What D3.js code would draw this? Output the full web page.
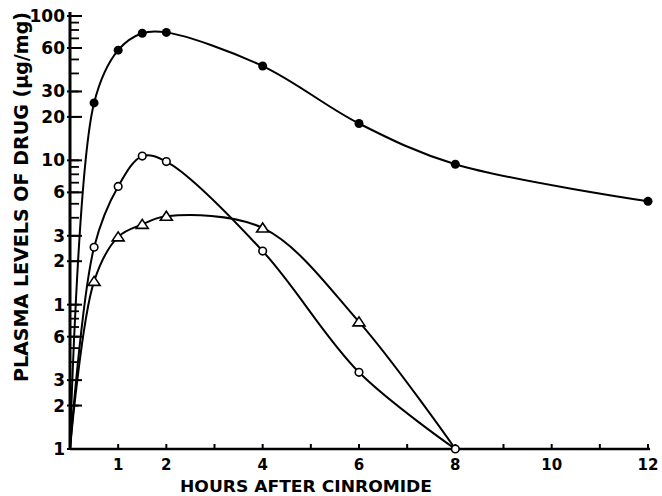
<!DOCTYPE html>
<html>
<head>
<meta charset="utf-8">
<script src="https://cdnjs.cloudflare.com/ajax/libs/d3/7.8.5/d3.min.js"></script>
<style>
	body { margin: 0; background: #fff; }
	svg { display: block; }
</style>
</head>
<body>
<div id="chart"></div>
<script>
//////////
// DATA //
//////////
var hours = [0, 0.5, 1, 1.5, 2, 4, 6, 8, 12];
var filledCircles = [0.1, 25, 58, 76, 77, 45, 18, 9.4, 5.2];
var openCircles = [0.1, 2.5, 6.6, 10.7, 9.8, 2.35, 0.34, 0.1, null];
var triangles = [0.1, 1.45, 2.95, 3.6, 4.1, 3.4, 0.76, 0.1, null];

var xTickValues = [1, 2, 4, 6, 8, 10, 12];
var yTickValues = [0.1, 0.2, 0.3, 0.6, 1, 2, 3, 6, 10, 20, 30, 60, 100];
var yTickLabels = ["1", "2", "3", "6", "1", "2", "3", "6", "10", "20", "30", "60", "100"];

/////////////////
// "CONSTANTS" //
/////////////////
var WIDTH = 662;
var HEIGHT = 496;
var X_LEFT = 70;
var X_RIGHT = 648;
var Y_BOTTOM = 449;
var Y_TOP = 16;
var INK = "#000";
var FONT = "'DejaVu Sans', 'Liberation Sans', sans-serif";

var svg = d3.select("#chart")
	.append("svg")
	.attr("width", WIDTH)
	.attr("height", HEIGHT);

svg.append("rect")
	.attr("width", WIDTH)
	.attr("height", HEIGHT)
	.attr("fill", "#fff");

var x = d3.scaleLinear().domain([0, 12]).range([X_LEFT, X_RIGHT]);
var y = d3.scaleLog().domain([0.1, 100]).range([Y_BOTTOM, Y_TOP]);

//////////
// AXES //
//////////
// minor ticks on the log axis: every integer step inside each decade
var minorTicks = [];
[0.1, 1, 10].forEach(function(d) {
	for (var k = 1; k <= 9; k++) minorTicks.push(k * d);
});
minorTicks.push(100);

svg.append("g").selectAll("line")
	.data(minorTicks)
	.enter().append("line")
	.attr("x1", X_LEFT)
	.attr("x2", X_LEFT + 9)
	.attr("y1", function(d) { return y(d); })
	.attr("y2", function(d) { return y(d); })
	.attr("stroke", INK)
	.attr("stroke-width", 1.8);

svg.append("g").selectAll("line")
	.data(yTickValues)
	.enter().append("line")
	.attr("x1", X_LEFT - 3)
	.attr("x2", X_LEFT + 12)
	.attr("y1", function(d) { return y(d); })
	.attr("y2", function(d) { return y(d); })
	.attr("stroke", INK)
	.attr("stroke-width", 2);

svg.append("g").selectAll("text")
	.data(yTickValues)
	.enter().append("text")
	.attr("x", X_LEFT - 5)
	.attr("y", function(d) { return y(d) + 6; })
	.attr("text-anchor", "end")
	.attr("font-family", FONT)
	.attr("font-weight", "bold")
	.attr("font-size", 17)
	.attr("fill", INK)
	.text(function(d, i) { return yTickLabels[i]; });

svg.append("line")
	.attr("x1", X_LEFT)
	.attr("x2", X_LEFT)
	.attr("y1", Y_BOTTOM + 1)
	.attr("y2", Y_TOP - 4)
	.attr("stroke", INK)
	.attr("stroke-width", 3);

// x axis: small ticks every hour, labels on even hours + 1
svg.append("g").selectAll("line")
	.data(d3.range(1, 13))
	.enter().append("line")
	.attr("x1", function(d) { return x(d); })
	.attr("x2", function(d) { return x(d); })
	.attr("y1", Y_BOTTOM)
	.attr("y2", Y_BOTTOM - 5)
	.attr("stroke", INK)
	.attr("stroke-width", 2);

svg.append("line")
	.attr("x1", X_LEFT)
	.attr("x2", X_RIGHT + 2)
	.attr("y1", Y_BOTTOM)
	.attr("y2", Y_BOTTOM)
	.attr("stroke", INK)
	.attr("stroke-width", 2.5);

svg.append("g").selectAll("text")
	.data(xTickValues)
	.enter().append("text")
	.attr("x", function(d) { return x(d); })
	.attr("y", Y_BOTTOM + 21)
	.attr("text-anchor", "middle")
	.attr("font-family", FONT)
	.attr("font-weight", "bold")
	.attr("font-size", 15)
	.attr("fill", INK)
	.text(function(d) { return d; });

svg.append("text")
	.attr("x", 180)
	.attr("y", 492)
	.attr("font-family", FONT)
	.attr("font-weight", "bold")
	.attr("font-size", 16)
	.attr("textLength", 252)
	.attr("lengthAdjust", "spacingAndGlyphs")
	.attr("fill", INK)
	.text("HOURS AFTER CINROMIDE");

svg.append("text")
	.attr("transform", "translate(28,382) rotate(-90)")
	.attr("font-family", FONT)
	.attr("font-weight", "bold")
	.attr("font-size", 19)
	.attr("textLength", 370)
	.attr("lengthAdjust", "spacingAndGlyphs")
	.attr("fill", INK)
	.text("PLASMA LEVELS OF DRUG (\u03bcg/mg)");

////////////
// SERIES //
////////////
var toPoints = function(values) {
	return hours.map(function(h, i) { return { h: h, v: values[i] }; })
		.filter(function(p) { return p.v != null; });
};

var line = d3.line()
	.x(function(p) { return x(p.h); })
	.y(function(p) { return y(p.v); })
	.curve(d3.curveCatmullRom.alpha(0.5));

[filledCircles, openCircles, triangles].forEach(function(values) {
	svg.append("path")
		.attr("d", line(toPoints(values)))
		.attr("fill", "none")
		.attr("stroke", INK)
		.attr("stroke-width", 2);
});

// markers (no marker at the origin point)
svg.append("g").selectAll("circle")
	.data(toPoints(filledCircles).filter(function(p) { return p.h > 0; }))
	.enter().append("circle")
	.attr("cx", function(p) { return x(p.h); })
	.attr("cy", function(p) { return y(p.v); })
	.attr("r", 4.5)
	.attr("fill", INK);

svg.append("g").selectAll("circle")
	.data(toPoints(openCircles).filter(function(p) { return p.h > 0; }))
	.enter().append("circle")
	.attr("cx", function(p) { return x(p.h); })
	.attr("cy", function(p) { return y(p.v); })
	.attr("r", 3.8)
	.attr("fill", "#fff")
	.attr("stroke", INK)
	.attr("stroke-width", 1.6);

svg.append("g").selectAll("path")
	.data(toPoints(triangles).filter(function(p) { return p.h > 0 && p.v > 0.1; }))
	.enter().append("path")
	.attr("transform", function(p) { return "translate(" + x(p.h) + "," + y(p.v) + ")"; })
	.attr("d", "M -6 4 L 6 4 L 0 -5 Z")
	.attr("fill", "#fff")
	.attr("stroke", INK)
	.attr("stroke-width", 1.6);
</script>
</body>
</html>
